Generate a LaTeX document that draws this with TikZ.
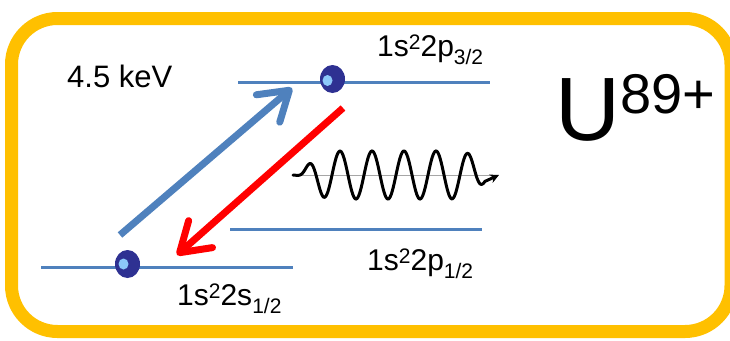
\documentclass[tikz,border=0pt]{standalone}
\usepackage{fontspec}
\setmainfont{Liberation Sans}
\usetikzlibrary{arrows.meta,shapes.geometric}
\definecolor{framecol}{RGB}{255,192,0}
\definecolor{levelcol}{RGB}{79,129,189}
\definecolor{edark}{RGB}{46,49,146}
\definecolor{elight}{RGB}{140,200,250}
\definecolor{emitcol}{RGB}{255,0,0}
\newcommand{\sta}[3]{#1\raisebox{7pt}{\fontsize{21}{21}\selectfont 2}2#2\raisebox{-8pt}{\fontsize{21}{21}\selectfont #3}}
\begin{document}
\begin{tikzpicture}[x=1pt,y=-1pt,
  declare function={uu(\t)=(\t-395)*(\t-395)/7744; env(\t)=exp(-uu(\t)*uu(\t)*uu(\t)*uu(\t)*uu(\t)*uu(\t));},
  levelline/.style={levelcol,line width=3},
  electron/.style={ellipse,fill=edark,minimum width=25pt,minimum height=28pt,inner sep=0pt},
  glint/.style={ellipse,fill=elight,minimum width=10pt,minimum height=11pt,inner sep=0pt},
  bigarrow/.style={line width=7,-{Straight Barb[length=28pt,width=36pt,round]}},
  lbl/.style={anchor=base west,inner sep=0pt,font=\fontsize{30}{30}\selectfont}]
\useasboundingbox (0,0) rectangle (730,340);
\draw[framecol,line width=13,rounded corners=46] (11.5,18.5) rectangle (731,331.5);
% levels
\coordinate (u1) at (238,82); \coordinate (u2) at (490,82);
\coordinate (m1) at (230,229); \coordinate (m2) at (482,229);
\coordinate (l1) at (41,267); \coordinate (l2) at (293,267);
\draw[levelline] (u1) -- (u2);
\draw[levelline] (m1) -- (m2);
\draw[levelline] (l1) -- (l2);
% electrons
\node[electron] (eu) at (332.5,79) {};
\node[glint] (gu) at (327.5,80.5) {};
\node[electron] (el) at (127.5,264) {};
\node[glint] (gl) at (123.5,264) {};
% transitions
\coordinate (bs) at (120,235); \coordinate (bt) at (292,88);
\coordinate (rs) at (343,108); \coordinate (rt) at (177,255);
\draw[bigarrow,levelcol] (bs) -- (bt);
\draw[bigarrow,emitcol] (rs) -- (rt);
% photon
\coordinate (w0) at (293,175); \coordinate (w1) at (490,175); \coordinate (wt) at (499,175);
\draw[gray!70,line width=0.6] (w0) -- (w1);
\draw[line width=3,line cap=round,-{Stealth[length=9pt,width=9pt]}]
  plot[domain=293:485,samples=220,smooth] (\x,{175-24*env(\x)*cos(11.25*(\x-340))}) -- (wt);
% labels
\node[lbl,font=\fontsize{31}{31}\selectfont] (kev) at (67,87) {4.5 keV};
\node[lbl] (p32) at (377,56.5) {\sta{1s}{p}{3/2}};
\node[lbl] (p12) at (367,270) {\sta{1s}{p}{1/2}};
\node[lbl] (s12) at (177,305) {\sta{1s}{s}{1/2}};
\node[anchor=base west,inner sep=0pt,font=\fontsize{90}{90}\selectfont] (ion) at (555,140) {U\raisebox{27pt}{\fontsize{56}{56}\selectfont 89+}};
\end{tikzpicture}
\end{document}
